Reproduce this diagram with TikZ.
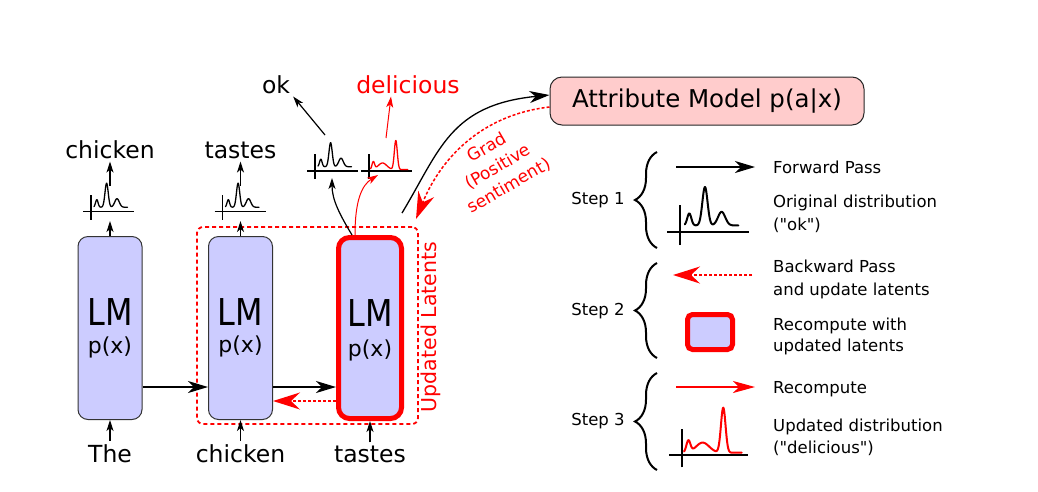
\documentclass[tikz,border=0pt]{standalone}
\usepackage{fontspec}
\setmainfont{DejaVu Sans}[Ligatures=TeXOff]
\usetikzlibrary{arrows.meta,decorations.pathreplacing,calc}
\definecolor{lmfill}{HTML}{CCCCFF}
\definecolor{amfill}{HTML}{FFCCCC}
\definecolor{myred}{HTML}{FF0000}
\tikzset{
  lmbox/.style={draw=black!80, line width=1pt, fill=lmfill, rounded corners=10pt, minimum width=64pt, minimum height=183pt, inner sep=0pt},
  lmredbox/.style={draw=myred, line width=5pt, fill=lmfill, rounded corners=11pt, minimum width=63pt, minimum height=181pt, inner sep=0pt},
  word/.style={font=\fontsize{23.5}{28}\selectfont, inner sep=3pt, anchor=base},
  lmtxt/.style={font=\fontsize{37}{40}\selectfont, inner sep=0pt, anchor=base},
  pxtxt/.style={font=\fontsize{22}{26}\selectfont, inner sep=0pt, anchor=base},
  legtxt/.style={font=\fontsize{16.5}{20}\selectfont, inner sep=0pt, anchor=base west},
  arr/.style={line width=1.2pt, -{Stealth[length=11pt,width=7pt,inset=3pt]}},
  redarr/.style={myred, line width=1pt, -{Stealth[length=11pt,width=7pt,inset=3pt]}},
  bigarr/.style={line width=1.3pt, -{Stealth[length=20pt,width=12pt,inset=6pt]}},
  bigredarr/.style={myred, line width=1.3pt, -{Stealth[length=22pt,width=12pt,inset=6pt]}},
  redback/.style={myred, line width=1.5pt, dash pattern=on 3pt off 2pt, -{Stealth[length=27pt,width=17pt,inset=9pt]}},
  brc/.style={decorate, decoration={brace, amplitude=22pt}, line width=2pt},
  bdist/.pic={
    \draw (-8,0) -- (43,0);
    \draw (0,8) -- (0,-17);
    \draw[line join=round, line cap=round] plot[domain=3:36.5, samples=120] (\x, {-(4.3 + 7.5*exp(-((\x-5.8)/1.8)*((\x-5.8)/1.8)) + 24*exp(-((\x-15.6)/2.3)*((\x-15.6)/2.3)) + 8.5*exp(-((\x-26)/3.2)*((\x-26)/3.2)))});
  },
  rdist/.pic={
    \draw (-8,0) -- (43,0);
    \draw (0,8) -- (0,-17);
    \draw[myred, line join=round, line cap=round] plot[domain=1.5:38.7, samples=120] (\x, {-(1.5 + 7.5*exp(-((\x-4.3)/1.8)*((\x-4.3)/1.8)) + 6.5*exp(-((\x-13.5)/6)*((\x-13.5)/6)) + 29*exp(-((\x-26.8)/2.1)*((\x-26.8)/2.1)))});
  },
}
\begin{document}
\begin{tikzpicture}[x=1pt, y=-1pt]
\useasboundingbox (0,0) rectangle (1038,491);

% dashed latent frame
\node[draw=myred, line width=1.8pt, dash pattern=on 4pt off 3pt, rounded corners=6pt, minimum width=221pt, minimum height=197pt, inner sep=0pt] (latent) at (307.5,325.5) {};
\node[myred, rotate=90, font=\fontsize{20.5}{24}\selectfont, inner sep=0pt] (updlat) at (431,327) {Updated Latents};

% LM boxes
\node[lmbox] (lm1) at (110,328) {};
\node[lmbox] (lm2) at (240.5,328) {};
\node[lmredbox] (lm3) at (370,328) {};
\node[lmtxt] (lm1a) at (110,325) {\scalebox{0.86}[1]{LM}};
\node[pxtxt] (lm1b) at (110,353) {p(x)};
\node[lmtxt] (lm2a) at (240.5,325) {\scalebox{0.86}[1]{LM}};
\node[pxtxt] (lm2b) at (240.5,352) {p(x)};
\node[lmtxt] (lm3a) at (370,326) {\scalebox{0.86}[1]{LM}};
\node[pxtxt] (lm3b) at (370,356) {p(x)};

% input words
\node[word] (wthe) at (110,462) {The};
\node[word] (wchicken) at (240.5,462) {chicken};
\node[word] (wtastes) at (370,462) {tastes};
\draw[arr] (wthe.north) -- (lm1.south);
\draw[arr] (wchicken.north) -- (lm2.south);
\draw[arr] (wtastes.north) -- (lm3.south);

% horizontal connections
\draw[bigarr] ([yshift=-59pt]lm1.east) -- ([yshift=-59pt]lm2.west);
\draw[bigarr] ([yshift=-59pt]lm2.east) -- ([yshift=-59pt]lm3.west);
\draw[redback] ([yshift=-73pt]lm3.west) -- ([yshift=-73pt]lm2.east);

% output distributions
\pic[line width=1.3pt] at (91,211.5) {bdist};
\pic[line width=1.3pt] at (222.5,211.5) {bdist};
\pic[line width=1.3pt] at (315,171) {bdist};
\pic[line width=1.3pt] at (369,171) {rdist};

\node[word] (ochicken) at (110,158) {chicken};
\node[word] (otastes) at (240.5,158) {tastes};
\node[word] (ook) at (276,93) {ok};
\node[word, myred] (odel) at (408,93) {delicious};

\coordinate (i1b) at (110,221);
\coordinate (i1t) at (110,186);
\coordinate (i2b) at (240.5,221);
\coordinate (i2t) at (240.5,186);
\coordinate (i3b) at (332,178);
\coordinate (i3t) at (325,135);
\coordinate (i4b) at (378,175);
\coordinate (i4t) at (386,138);
\draw[arr] (lm1.north) -- (i1b);
\draw[arr] (i1t) -- (ochicken.south);
\draw[arr] (lm2.north) -- (i2b);
\draw[arr] (i2t) -- (otastes.south);
\draw[arr] ([xshift=-18pt]lm3.north) .. controls (340,215) and (332,200) .. (i3b);
\draw[redarr] ([xshift=-15pt]lm3.north) .. controls (355,200) and (362,185) .. (i4b);
\draw[arr] (i3t) -- (ook.south east);
\draw[redarr] (i4t) -- ([xshift=-17pt]odel.south);

% attribute model
\node[draw=black!85, line width=1pt, fill=amfill, rounded corners=12pt, minimum width=314pt, minimum height=48pt, inner sep=0pt, font=\fontsize{24.5}{28}\selectfont] (attr) at (707,101) {Attribute Model p(a|x)};
\coordinate (fwdstart) at (402,213);
\coordinate (gradend) at (416,219);
\draw[bigarr] (fwdstart) .. controls (440,150) and (450,105) .. ([yshift=6pt]attr.west);
\draw[redback] ([yshift=-6pt]attr.west) .. controls (480,115) and (440,160) .. (gradend);
\node[myred, rotate=30, align=center, font=\fontsize{17}{22}\selectfont, inner sep=0pt] (gradtxt) at (498,167) {Grad\\(Positive\\sentiment)};

% legend
\node[legtxt, anchor=base] (step1) at (598,204) {Step 1};
\node[legtxt, anchor=base] (step2) at (598,315) {Step 2};
\node[legtxt, anchor=base] (step3) at (598,425) {Step 3};
\draw[brc] (657,248) -- (657,152);
\draw[brc] (657,358) -- (657,263);
\draw[brc] (657,470) -- (657,373);

\coordinate (f1) at (676,167);
\coordinate (f2) at (755,167);
\draw[bigarr] (f1) -- (f2);
\pic[line width=2pt, scale=1.6] at (680,232.3) {bdist};
\coordinate (b1) at (752,275);
\coordinate (b2) at (673,275);
\draw[redback] (b1) -- (b2);
\node[draw=myred, line width=5pt, fill=lmfill, rounded corners=5pt, minimum width=45pt, minimum height=35pt, inner sep=0pt] (lgbox) at (710,332) {};
\coordinate (r1) at (676,387);
\coordinate (r2) at (755,387);
\draw[bigredarr] (r1) -- (r2);
\pic[line width=2pt, scale=1.55] at (681.7,455) {rdist};

\node[legtxt] (t1) at (773,173) {Forward Pass};
\node[legtxt] (t2) at (773,207.7) {Original distribution};
\node[legtxt] (t3) at (773,230) {("ok")};
\node[legtxt] (t4) at (773,272.7) {Backward Pass};
\node[legtxt] (t5) at (773,295) {and update latents};
\node[legtxt] (t6) at (773,330) {Recompute with};
\node[legtxt] (t7) at (773,351.7) {updated latents};
\node[legtxt] (t8) at (773,393) {Recompute};
\node[legtxt] (t9) at (773,431.7) {Updated distribution};
\node[legtxt] (t10) at (773,453) {("delicious")};
\end{tikzpicture}
\end{document}
